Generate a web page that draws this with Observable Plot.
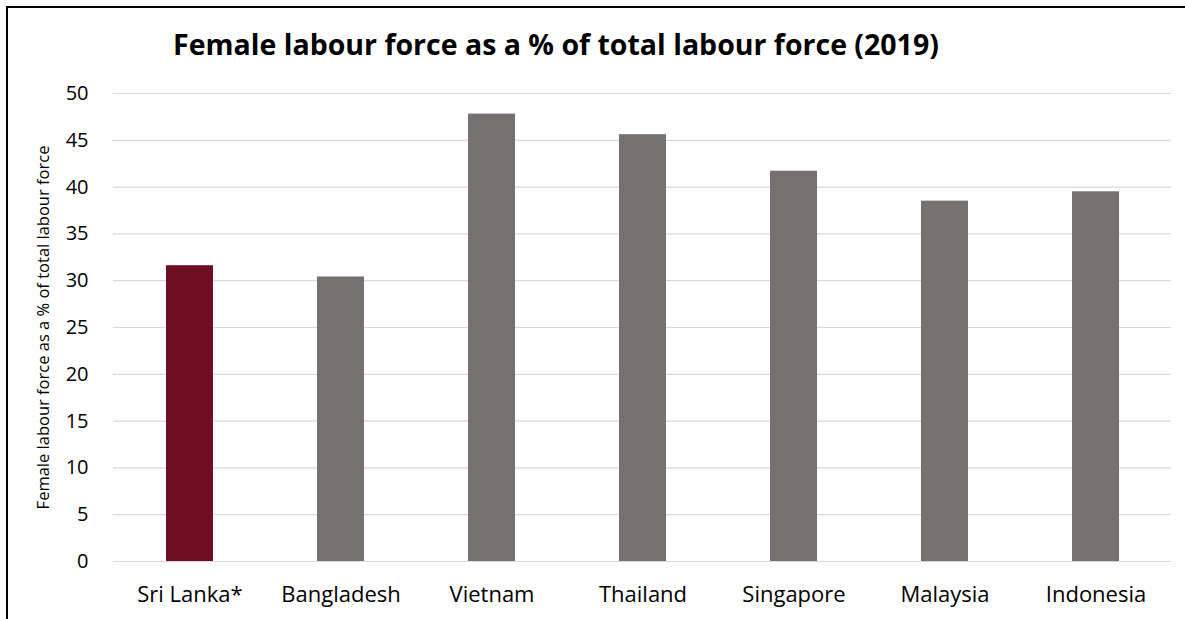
<!DOCTYPE html>
<html>
<head>
<meta charset="utf-8">
<script src="https://cdn.jsdelivr.net/npm/d3@7"></script>
<script src="https://cdn.jsdelivr.net/npm/@observablehq/plot@0.6"></script>
<style>
  html, body { margin: 0; padding: 0; background: #fff; }
  #wrap { position: relative; width: 1185px; height: 619px; overflow: hidden; background: #fff; font-family: "Open Sans", sans-serif; }
  #frame { position: absolute; left: 6px; top: 6px; width: 1400px; height: 800px; border-left: 2px solid #000; border-top: 2px solid #000; box-sizing: border-box; pointer-events: none; }
  #title { position: absolute; left: 0; width: 1112px; top: 25px; text-align: center; font-size: 28.5px; font-weight: bold; color: #000; white-space: nowrap; }
  #chart { position: absolute; left: 0; top: 0; }
</style>
</head>
<body>
<div id="wrap">
  <div id="chart"></div>
  <div id="title">Female labour force as a % of total labour force (2019)</div>
  <div id="frame"></div>
</div>
<script>
const countries = ["Sri Lanka*", "Bangladesh", "Vietnam", "Thailand", "Singapore", "Malaysia", "Indonesia"];
const values = [31.6, 30.4, 47.8, 45.6, 41.7, 38.5, 39.5];
const highlight = ["Sri Lanka*"];
const yTicks = [0, 5, 10, 15, 20, 25, 30, 35, 40, 45, 50];
const yLabel = "Female labour force as a % of total labour force";

const data = countries.map((c, i) => ({country: c, value: values[i]}));

const chart = Plot.plot({
  width: 1185,
  height: 619,
  marginLeft: 113,
  marginRight: 14,
  marginTop: 93,
  marginBottom: 58,
  style: {fontFamily: "'Open Sans', sans-serif", background: "transparent", color: "#000"},
  x: {domain: countries, paddingInner: 0.69, paddingOuter: 0.345, label: null},
  y: {domain: [0, 50], label: null},
  marks: [
    Plot.gridY(yTicks, {stroke: "#d9d9d9", strokeOpacity: 1, strokeWidth: 1.2}),
    Plot.barY(data, {
      x: "country",
      y: "value",
      fill: d => highlight.includes(d.country) ? "#6d0e22" : "#767171"
    }),
    Plot.axisY({ticks: yTicks, tickSize: 0, tickPadding: 25, fontSize: 20, label: yLabel, labelAnchor: "center", labelOffset: 76, labelArrow: "none"}),
    Plot.axisX({tickSize: 0, tickPadding: 25, fontSize: 22, label: null})
  ]
});
document.getElementById("chart").appendChild(chart);
chart.querySelectorAll("g[aria-label='y-axis label'] text").forEach(t => t.setAttribute("font-size", "16.5"));
</script>
</body>
</html>
